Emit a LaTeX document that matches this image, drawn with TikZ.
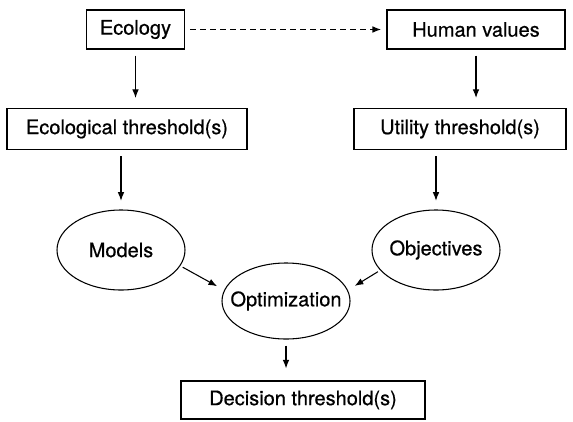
\documentclass[tikz,border=0pt]{standalone}
\usepackage{fontspec}
\setmainfont{TeX Gyre Heros}[FakeBold=0.6]
\usetikzlibrary{shapes.geometric,arrows.meta}

\begin{document}
\begin{tikzpicture}[x=0.75pt, y=-0.75pt,
		box/.style={draw, line width=0.8pt, inner sep=0pt, font=\fontsize{15}{17}\selectfont},
		oval/.style={draw, ellipse, line width=0.8pt, inner xsep=-25pt, inner ysep=0pt, font=\fontsize{15}{17}\selectfont},
		arr/.style={-{Latex[length=6.5pt,width=5pt]}, line width=0.8pt, shorten <=4.5pt, shorten >=6.5pt}]
		%%%%% START %%%%%
		
		\useasboundingbox (0, 0) rectangle (573, 421);
		
		\node[box, minimum width=73pt, minimum height=29.25pt] (ecology) at (135.5, 29.5) {Ecology};
		\node[box, minimum width=133.5pt, minimum height=29.25pt] (human) at (476, 29.5) {Human values};
		
		\node[box, minimum width=180pt, minimum height=30.75pt] (ecothr) at (127, 129) {Ecological threshold(s)};
		\node[box, minimum width=159pt, minimum height=30.75pt] (utilthr) at (460, 129) {Utility threshold(s)};
		
		\node[oval, minimum width=96pt, minimum height=60pt] (models) at (121, 250) {Models};
		\node[oval, minimum width=96pt, minimum height=60pt] (objectives) at (436, 250) {Objectives};
		\node[oval, minimum width=96pt, minimum height=57pt] (optim) at (286, 301) {Optimization};
		
		\node[box, minimum width=183pt, minimum height=28.5pt] (decthr) at (303, 400) {Decision threshold(s)};
		
		\draw[arr, dash pattern=on 4.5pt off 3pt, shorten <=4pt, shorten >=4pt] (ecology) -- (human);
		
		\draw[arr, shorten >=7.5pt] (ecology) -- (ecology |- ecothr.north);
		\draw[arr, shorten >=7.5pt] (human) -- (human |- utilthr.north);
		
		\draw[arr] (models.north |- ecothr.south) -- (models.north);
		\draw[arr] (objectives.north |- utilthr.south) -- (objectives.north);
		
		\draw[arr, shorten <=2pt, shorten >=6pt] (models.-15) -- (optim.170);
		\draw[arr, shorten <=2pt, shorten >=6pt] (objectives.200) -- (optim.10);
		
		\draw[arr, shorten >=9pt] (optim) -- (optim |- decthr.north);
		
		%%%%% END %%%%%
	\end{tikzpicture}
\end{document}
